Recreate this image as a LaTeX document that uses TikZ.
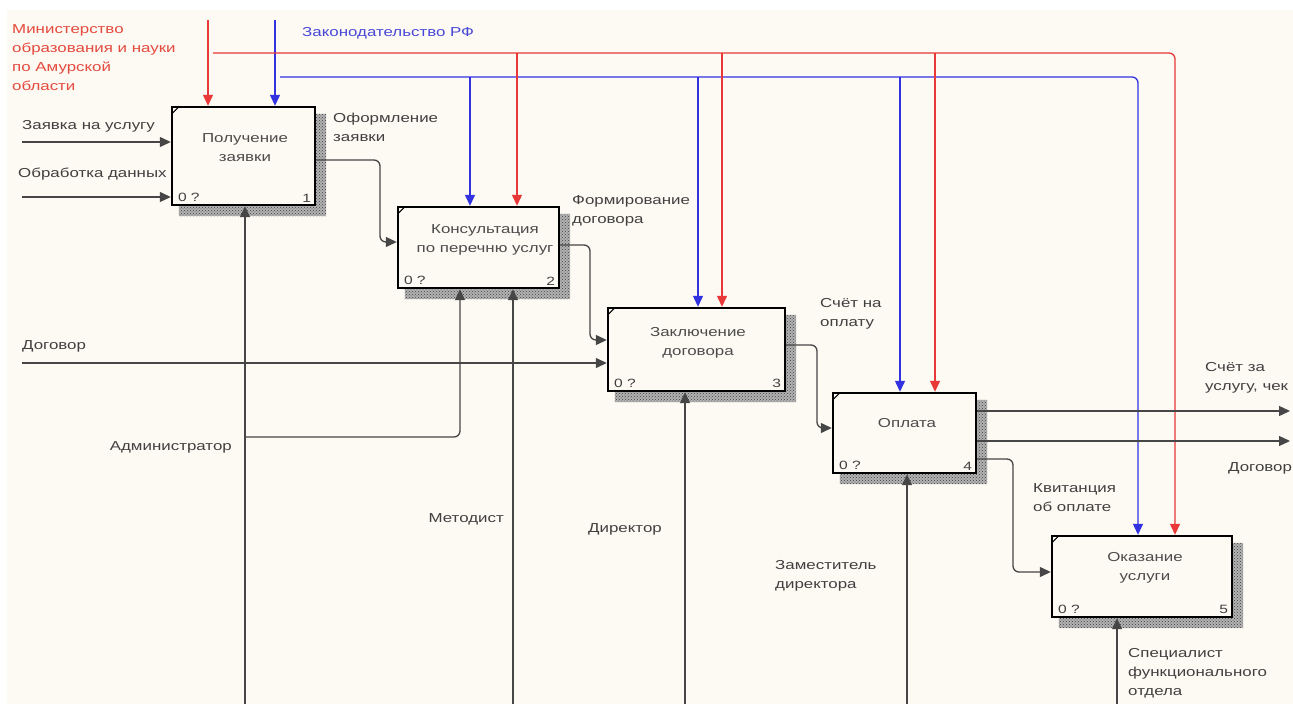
\documentclass[tikz,border=0pt]{standalone}
\usepackage{fontspec}
\setmainfont[FakeStretch=1.3]{Liberation Sans}
\usetikzlibrary{arrows.meta}
\usetikzlibrary{patterns}
\usetikzlibrary{backgrounds}

\definecolor{bgcream}{RGB}{253,249,243}
\definecolor{ctrlred}{RGB}{232,56,56}
\definecolor{ctrlblue}{RGB}{50,50,225}
\definecolor{txtred}{RGB}{228,74,62}
\definecolor{txtblue}{RGB}{72,72,215}
\definecolor{linegray}{RGB}{70,70,70}

\begin{document}
\begin{tikzpicture}[x=1pt,y=-1pt,
        every node/.style={font=\fontsize{13}{19}\selectfont,inner sep=0pt},
        func/.style 2 args={draw=black,line width=2.4pt,minimum width=#1,
            minimum height=#2},
        boxtext/.style={anchor=north,align=center,text=black!70},
        lbl/.style={anchor=north west,align=left,text=black!75},
        boxnum/.style={font=\fontsize{12}{14}\selectfont,text=black!75},
        flow/.style={draw=linegray,line width=1.3pt,rounded corners=6pt,
            -{Triangle[length=11pt,width=10pt]}},
        redctrl/.style={flow,draw=ctrlred},
        bluectrl/.style={flow,draw=ctrlblue},
        boxshade/.style={preaction={fill=black!30},pattern=crosshatch dots,
            pattern color=black!75}]
        \useasboundingbox (0,0) rectangle (1293,704);

        % Function boxes
        \node [func={143pt}{98pt}] (b1) at (243.5,156) {};
        \node [func={161pt}{81pt}] (b2) at (478.5,247.5) {};
        \node [func={177pt}{83pt}] (b3) at (696.5,349.5) {};
        \node [func={143pt}{80pt}] (b4) at (904.5,433) {};
        \node [func={180pt}{81pt}] (b5) at (1142,576.5) {};

        \node [boxtext] (t1) at (245,133) {Получение\\заявки};
        \node [boxtext] (t2) at (485,224) {Консультация\\по перечню услуг};
        \node [boxtext] (t3) at (698,327) {Заключение\\договора};
        \node [boxtext] (t4) at (907,418) {Оплата};
        \node [boxtext] (t5) at (1145,552) {Оказание\\услуги};

        \foreach \bx/\k in {b1/1,b2/2,b3/3,b4/4,b5/5} {
            \draw [line width=1pt] ([shift={(1,8)}]\bx.north west)
                -- ([shift={(8,1)}]\bx.north west);
            \node [boxnum,anchor=south west] (\bx zero)
                at ([shift={(7,-4)}]\bx.south west) {0 ?};
            \node [boxnum,anchor=south east] (\bx num)
                at ([shift={(-5,-4)}]\bx.south east) {\k};
        }

        % Paper and shadows
        \begin{scope}[on background layer]
            \fill [white] (0,0) rectangle (1293,704);
            \fill [bgcream] (7,10) rectangle (1293,704);
            \foreach \bx in {b1,b2,b3,b4,b5}
                \path [boxshade] ([shift={(0,8)}]\bx.north east)
                    -- ([shift={(10,8)}]\bx.north east)
                    -- ([shift={(10,10)}]\bx.south east)
                    -- ([shift={(8,10)}]\bx.south west)
                    -- ([shift={(8,0)}]\bx.south west)
                    -- (\bx.south east) -- cycle;
        \end{scope}

        % Free ends
        \coordinate (redtop) at (208,20);
        \coordinate (bluetop) at (275,20);
        \coordinate (redbus) at (213,53);
        \coordinate (bluebus) at (280,77);
        \coordinate (in1) at (22,142);
        \coordinate (in2) at (22,197);
        \coordinate (in3) at (22,363);
        \coordinate (out1) at (1290,411);
        \coordinate (out2) at (1290,441);
        \foreach \x/\n in {245/1,513/2,685/3,907/4,1117/5}
            \coordinate (mech\n) at (\x,704);

        % Controls
        \draw [redctrl] (redtop) -- (redtop |- b1.north);
        \draw [bluectrl] (bluetop) -- (bluetop |- b1.north);
        \draw [redctrl] (redbus) -- (1175,53) -- (1175,53 |- b5.north);
        \draw [bluectrl] (bluebus) -- (1138,77) -- (1138,77 |- b5.north);
        \foreach \x/\bx in {517/b2,722/b3,935/b4}
            \draw [redctrl] (\x,53) -- (\x,53 |- \bx.north);
        \foreach \x/\bx in {470/b2,698/b3,900/b4}
            \draw [bluectrl] (\x,77) -- (\x,77 |- \bx.north);

        % Inputs and outputs
        \draw [flow] (in1) -- (b1.west |- in1);
        \draw [flow] (in2) -- (b1.west |- in2);
        \draw [flow] (in3) -- (b3.west |- in3);
        \draw [flow] (b1.east |- 0,160) -- (380,160) -- (380,242)
            -- (b2.west |- 0,242);
        \draw [flow] (b2.east |- 0,245) -- (590,245) -- (590,340)
            -- (b3.west |- 0,340);
        \draw [flow] (b3.east |- 0,345) -- (817,345) -- (817,428)
            -- (b4.west |- 0,428);
        \draw [flow] (b4.east |- out1) -- (out1);
        \draw [flow] (b4.east |- out2) -- (out2);
        \draw [flow] (b4.east |- 0,459) -- (1013,459) -- (1013,572)
            -- (b5.west |- 0,572);

        % Mechanisms
        \draw [flow] (mech1) -- (mech1 |- b1.south);
        \draw [flow] (245,437) -- (460,437) -- (460,437 |- b2.south);
        \draw [flow] (mech2) -- (mech2 |- b2.south);
        \draw [flow] (mech3) -- (mech3 |- b3.south);
        \draw [flow] (mech4) -- (mech4 |- b4.south);
        \draw [flow] (mech5) -- (mech5 |- b5.south);

        % Labels
        \node [lbl,text=txtred] (lmin) at (12,24)
            {Министерство\\образования и науки\\по Амурской\\области};
        \node [lbl,text=txtblue] (lzak) at (302,27) {Законодательство РФ};
        \node [lbl] (lin1) at (22,120) {Заявка на услугу};
        \node [lbl] (lin2) at (18,168) {Обработка данных};
        \node [lbl] (lin3) at (22,340) {Договор};
        \node [lbl] (lf1) at (333,113) {Оформление\\заявки};
        \node [lbl] (lf2) at (572,195) {Формирование\\договора};
        \node [lbl] (lf3) at (820,298) {Счёт на\\оплату};
        \node [lbl] (lf4) at (1033,483) {Квитанция\\об оплате};
        \node [lbl] (lout1) at (1205,362) {Счёт за\\услугу, чек};
        \node [lbl] (lout2) at (1228,462) {Договор};
        \node [lbl,anchor=north east] (lm1) at (232,441) {Администратор};
        \node [lbl,anchor=north east] (lm2) at (504,513) {Методист};
        \node [lbl] (lm3) at (588,523) {Директор};
        \node [lbl] (lm4) at (775,560) {Заместитель\\директора};
        \node [lbl] (lm5) at (1128,648) {Специалист\\функционального\\отдела};
\end{tikzpicture}
\end{document}
